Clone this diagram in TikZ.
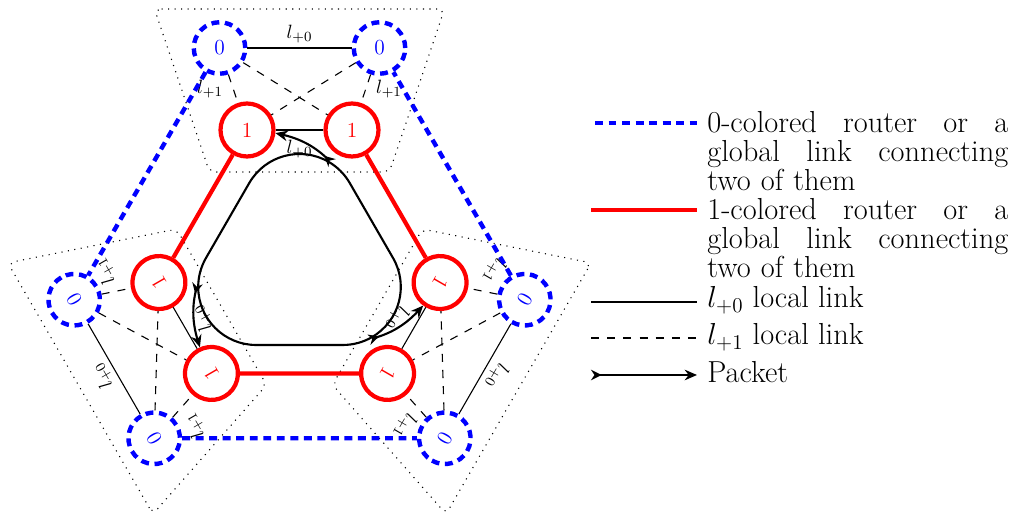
\documentclass[tikz,border=0pt]{standalone}
\usetikzlibrary{arrows.meta}

% one group of four routers: two 0-colored, two 1-colored
\newcommand\drawgroup[2]{%
  \begin{scope}[rotate=#2, transform shape]
    \draw[region] (-145,253) -- (145,253) -- (90,90) -- (-90,90) -- cycle;
    \node[zero] (#1b1) at (-80,214) {0};
    \node[zero] (#1b2) at (80,214) {0};
    \node[one]  (#1r1) at (-52.5,132) {1};
    \node[one]  (#1r2) at (52.5,132) {1};
    \draw[loc0] (#1b1) -- node[lbl,above=1pt] {$l_{+0}$} (#1b2);
    \draw[loc0] (#1r1) -- node[lbl,below=4pt] {$l_{+0}$} (#1r2);
    \draw[loc1] (#1b1) -- node[lbl,left=4pt] {$l_{+1}$} (#1r1);
    \draw[loc1] (#1b2) -- node[lbl,right=4pt] {$l_{+1}$} (#1r2);
    \draw[loc1] (#1b1) -- (#1r2);
    \draw[loc1] (#1b2) -- (#1r1);
    \coordinate (#1s) at (32.5,99);
    \draw[pkt] (#1s) to[bend right=15] (#1r1);
  \end{scope}}

\begin{document}
\begin{tikzpicture}[x=0.02cm, y=0.02cm,
  small/.style={font=\fontsize{10.8pt}{13pt}\selectfont},
  digit/.style={font=\fontsize{12.2pt}{14pt}\selectfont},
  zero/.style={circle, draw=blue, text=blue, line width=2.5pt,
    dash pattern=on 4.5pt off 3.2pt, minimum size=1.03cm, inner sep=0pt, digit},
  one/.style={circle, draw=red, text=red, line width=2.4pt,
    minimum size=1.06cm, inner sep=0pt, digit},
  glob0/.style={draw=blue, line width=2.5pt, dash pattern=on 4.5pt off 3.2pt},
  glob1/.style={draw=red, line width=2.4pt},
  loc0/.style={draw, line width=0.62pt},
  loc1/.style={draw, line width=0.62pt, dash pattern=on 4.6pt off 4.6pt},
  lbl/.style={small, inner sep=1.5pt},
  region/.style={draw, line width=0.62pt, dash pattern=on 0.62pt off 3.1pt,
    rounded corners=0.14cm},
  pkt/.style={line width=1.2pt,
    arrows={Stealth[reversed,length=6pt,width=6pt]-Stealth[length=7pt,width=6pt]}},
  loopline/.style={line width=1.2pt},
  legend/.style={anchor=base west, inner sep=0pt,
    font=\fontsize{17.3pt}{16.3pt}\selectfont}
]
\useasboundingbox (0,0) rectangle (1013,516);

\begin{scope}[shift={(299.5,254)}]
  % packet route around the ring
  \draw[loopline] ([shift={(0,50)}]150:58) arc[start angle=150, end angle=30, radius=58]
    -- ([shift={(-30:50)}]30:58) arc[start angle=30, end angle=-90, radius=58]
    -- ([shift={(210:50)}]-90:58) arc[start angle=270, end angle=150, radius=58]
    -- cycle;

  \drawgroup{t}{0}
  \drawgroup{l}{120}
  \drawgroup{r}{-120}

  % global links
  \draw[glob1] (tr1) -- (lr2);
  \draw[glob1] (lr1) -- (rr2);
  \draw[glob1] (rr1) -- (tr2);
  \draw[glob0] (tb1) -- (lb2);
  \draw[glob0] (lb1) -- (rb2);
  \draw[glob0] (rb1) -- (tb2);
\end{scope}

% legend
\coordinate (k0a) at (595,393); \coordinate (k0b) at (697,393);
\coordinate (k1a) at (591,306); \coordinate (k1b) at (697,306);
\coordinate (k2a) at (591,214); \coordinate (k2b) at (697,214);
\coordinate (k3a) at (591,178); \coordinate (k3b) at (697,178);
\coordinate (k4a) at (591,141); \coordinate (k4b) at (697,141);
\draw[glob0] (k0a) -- (k0b);
\draw[glob1] (k1a) -- (k1b);
\draw[loc0] (k2a) -- (k2b);
\draw[loc1] (k3a) -- (k3b);
\draw[pkt] (k4a) -- (k4b);

\node[legend, text width=6.02cm] (t0) at (707,383) {%
  \hbox to\linewidth{0-colored\hfill router\hfill or\hfill a}
  \hbox to\linewidth{global\hfill link\hfill connecting}
  \hbox{two of them}};
\node[legend, text width=6.02cm] (t1) at (707,296) {%
  \hbox to\linewidth{1-colored\hfill router\hfill or\hfill a}
  \hbox to\linewidth{global\hfill link\hfill connecting}
  \hbox{two of them}};
\node[legend] (t2) at (707,208) {$l_{+0}$ local link};
\node[legend] (t3) at (707,171) {$l_{+1}$ local link};
\node[legend] (t4) at (707,133) {Packet};
\end{tikzpicture}
\end{document}
